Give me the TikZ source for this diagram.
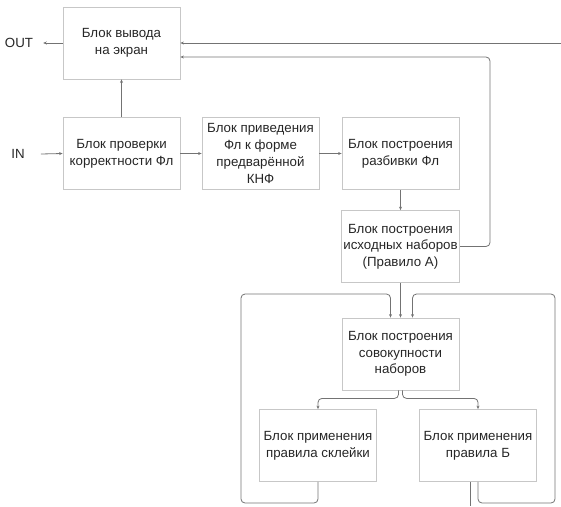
\documentclass[tikz,border=0pt]{standalone}
\usepackage{fontspec}
\setmainfont{Liberation Sans}
\usetikzlibrary{arrows.meta}

\tikzstyle{blok}=[draw=black!22, line width=0.8pt, minimum width=117pt, minimum height=72pt,
  align=center, inner sep=2pt, font=\fontsize{13.3}{16.7}\selectfont, text=black!85]
\tikzstyle{conn}=[draw=black!55, line width=0.8pt, rounded corners=4pt,
  -{Stealth[length=3.5pt,width=3pt]}]

\begin{document}
\begin{tikzpicture}[x=1pt,y=-1pt]
\useasboundingbox (0,0) rectangle (561,506);
% blocks
\node[blok] (out)   at (121.5,43)    {Блок вывода\\на экран};
\node[blok] (check) at (121.5,153.5) {Блок проверки\\корректности Фл};
\node[blok] (knf)   at (260.5,153.5) {Блок приведения\\Фл к форме\\предварённой\\КНФ};
\node[blok] (part)  at (400.5,153.5) {Блок построения\\разбивки Фл};
\node[blok] (init)  at (400.5,246.5) {Блок построения\\исходных наборов\\(Правило А)};
\node[blok] (set)   at (400.5,354)   {Блок построения\\совокупности\\наборов};
\node[blok] (glue)  at (318,445.5)   {Блок применения\\правила склейки};
\node[blok] (ruleb) at (478,445.5)   {Блок применения\\правила Б};
\node[font=\fontsize{13.3}{16}\selectfont, text=black!85, inner xsep=10pt] (outlbl) at (19,43) {OUT};
\node[font=\fontsize{13.3}{16}\selectfont, text=black!85, inner xsep=16pt] (inlbl) at (18,154) {IN};
% free ends and bends
\coordinate (rin)  at (561,43);
\coordinate (fb)   at (490,57);
\coordinate (lb)   at (241,503);
\coordinate (lt)   at (241,294);
\coordinate (rb)   at (555,503);
\coordinate (rt)   at (555,294);
\coordinate (exit) at (470,506);
% connectors
\draw[conn] (out.west) -- (outlbl.east);
\draw[conn] (rin) -- (out.east);
\draw[conn] (init.east) -| (fb) -- ([yshift=-14pt]out.east);
\draw[conn] (check.north) -- (out.south);
\draw[conn] (inlbl.east) -- (check.west);
\draw[conn] (check) -- (knf);
\draw[conn] (knf) -- (part);
\draw[conn] (part) -- (init);
\draw[conn] (init) -- (set);
\draw[conn] ([xshift=-2pt]set.south) -- ++(0,8) -| (glue.north);
\draw[conn] ([xshift=2pt]set.south) -- ++(0,8) -| (ruleb.north);
\draw[conn] (glue.south) |- (lb) -- (lt) -| ([xshift=-10pt]set.north);
\draw[conn] (ruleb.south) |- (rb) -- (rt) -| ([xshift=12pt]set.north);
\draw[conn, -] ([xshift=-8pt]ruleb.south) -- (exit);
\end{tikzpicture}
\end{document}
